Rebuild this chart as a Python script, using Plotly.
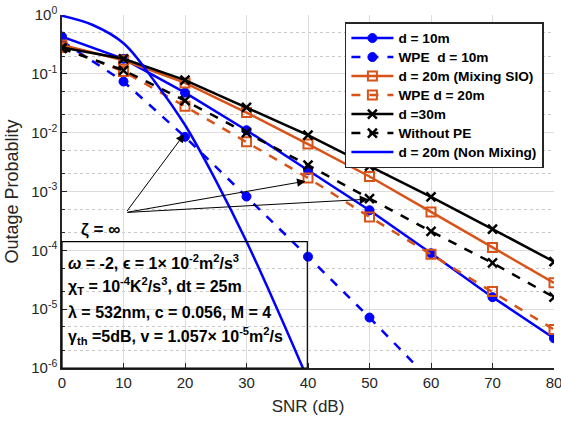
import numpy as np
import plotly.graph_objects as go

# SNR grid (dB) for the simulated curves
snr = [0, 10, 20, 30, 40, 50, 60, 70, 80]
snr_wpe10 = [0, 10, 20, 30, 40, 50, 60]
snr_nonmix = [0, 5, 10, 15, 20, 25, 30, 35, 40]

# outage probability per configuration
p_d10 = [0.43, 0.18, 0.048, 0.011, 0.0023, 4.8e-4, 8.9e-5, 1.6e-5, 3.2e-6]
p_wpe_d10 = [0.36, 0.074, 0.0085, 8.2e-4, 7.8e-5, 7.2e-6, 6.0e-7]
p_d20_mix = [0.31, 0.17, 0.07, 0.022, 0.0064, 0.0018, 4.5e-4, 1.12e-4, 2.8e-5]
p_wpe_d20 = [0.28, 0.11, 0.028, 0.007, 0.0017, 3.7e-4, 8.6e-5, 2.0e-5, 4.5e-6]
p_d30 = [0.28, 0.18, 0.078, 0.027, 0.0091, 0.0027, 8.1e-4, 2.3e-4, 6.4e-5]
p_without_pe = [0.27, 0.115, 0.035, 0.01, 0.0028, 7.6e-4, 2.1e-4, 6.1e-5, 1.6e-5]
p_d20_nonmix = [0.97, 0.676, 0.331, 0.0759, 0.0135, 1.55e-3, 1.41e-4, 1.0e-5, 6.3e-7]

x_ticks = [0, 10, 20, 30, 40, 50, 60, 70, 80]
y_tick_exp = [0, -1, -2, -3, -4, -5, -6]

BLUE = "#0000FF"
ORANGE = "#D95319"
BLACK = "#000000"
FONT = "Liberation Sans"
AXFONT = "Liberation Sans Narrow, Liberation Sans"

fig = go.Figure()

def add(x, y, name, color, dash, symbol, msize, lw=2.5, mlw=2, mode="lines+markers", shape="linear"):
    fig.add_trace(go.Scatter(
        x=x, y=y, mode=mode,
        name=f'<span style="font-size:13.7px">{name}</span>',
        line=dict(color=color, width=lw, dash=dash, shape=shape),
        marker=dict(symbol=symbol, size=msize, color=color,
                    line=dict(color=color, width=mlw)),
    ))

add(snr, p_d10, "d = 10m", BLUE, "solid", "circle", 9, mlw=1)
add(snr_wpe10, p_wpe_d10, "WPE  d = 10m", BLUE, "dash", "circle", 9, mlw=1)
add(snr, p_d20_mix, "d = 20m (Mixing SIO)", ORANGE, "solid", "square-open", 9)
add(snr, p_wpe_d20, "WPE d = 20m", ORANGE, "dash", "square-open", 9)
add(snr, p_d30, "d =30m", BLACK, "solid", "x-thin-open", 9, mlw=2.5)
add(snr, p_without_pe, "Without PE", BLACK, "dash", "x-thin-open", 9, mlw=2.5)
add(snr_nonmix, p_d20_nonmix, "d = 20m (Non Mixing)", BLUE, "solid", "circle", 1,
    mode="lines", shape="spline")

# zeta = infinity pointers
tail_x, tail_y = 10.4, np.log10(4.4e-4)
for tx, ty in [(19.9, np.log10(0.0095)), (39.6, np.log10(0.0015)), (49.8, np.log10(7.4e-4))]:
    fig.add_annotation(x=tx, y=ty, ax=tail_x, ay=tail_y, xref="x", yref="y",
                       axref="x", ayref="y", text="", showarrow=True,
                       arrowhead=2, arrowsize=1.7, arrowwidth=1, arrowcolor="black")
fig.add_annotation(x=6.2, y=np.log10(2.3e-4), xref="x", yref="y", text="<b>ζ = ∞</b>",
                   showarrow=False, font=dict(family=FONT, size=17, color="black"))

# parameter box
fig.add_shape(type="rect", xref="paper", yref="paper", x0=0, x1=0.4986, y0=0, y1=0.358,
              line=dict(color="black", width=1.2), fillcolor="rgba(0,0,0,0)")
params = [
    "<b><i>ω</i> = -2, ϵ = 1× 10<sup>-2</sup>m<sup>2</sup>/s<sup>3</sup></b>",
    "<b>χ<sub>T</sub> = 10<sup>-4</sup>K<sup>2</sup>/s<sup>3</sup>, dt = 25m</b>",
    "<b>λ = 532nm, c = 0.056, M = 4</b>",
    "<b>γ<sub>th</sub> =5dB, v = 1.057× 10<sup>-5</sup>m<sup>2</sup>/s</b>",
]
for txt, yp in zip(params, [0.300, 0.232, 0.157, 0.090]):
    fig.add_annotation(x=0.008, y=yp, xref="paper", yref="paper", text=txt,
                       xanchor="left", yanchor="middle", showarrow=False,
                       font=dict(family=FONT, size=16, color="black"))

fig.update_xaxes(
    range=[0, 80], tickvals=x_ticks, ticktext=[str(v) for v in x_ticks],
    showline=True, linecolor="#262626", linewidth=1.5,
    ticks="inside", ticklen=5, tickcolor="#262626",
    showgrid=True, gridcolor="#DCDCDC", gridwidth=1, zeroline=False,
    ticklabeloverflow="allow", automargin=False,
    title=dict(text="SNR (dB)", font=dict(family=AXFONT, size=17, color="#262626"), standoff=10),
    tickfont=dict(family=AXFONT, size=15, color="#262626"),
)
fig.update_yaxes(
    type="log", range=[-6, 0], automargin=False,
    tickvals=[10.0 ** e for e in y_tick_exp],
    ticktext=[f"10<sup>{e}</sup>" for e in y_tick_exp],
    showline=True, linecolor="#262626", linewidth=1.5,
    ticks="inside", ticklen=5, tickcolor="#262626",
    showgrid=True, gridcolor="#DCDCDC", gridwidth=1, zeroline=False,
    minor=dict(ticks="inside", ticklen=3, tickcolor="#262626", showgrid=True,
               gridcolor="#C8C8C8", griddash="dot", gridwidth=1),
    title=dict(text="Outage Probablity", font=dict(family=AXFONT, size=18, color="#262626"), standoff=8),
    tickfont=dict(family=AXFONT, size=15, color="#262626"),
)

fig.update_layout(
    width=561, height=422,
    margin=dict(l=62, r=7, t=15, b=54),
    paper_bgcolor="white", plot_bgcolor="white",
    font=dict(family=FONT),
    legend=dict(x=0.575, y=0.98, xanchor="left", yanchor="top",
                bgcolor="white", bordercolor="#262626", borderwidth=1.5,
                font=dict(family=FONT, size=12, color="black", weight="bold"),
                tracegroupgap=0, itemwidth=42),
)

fig.write_html("out.html")
